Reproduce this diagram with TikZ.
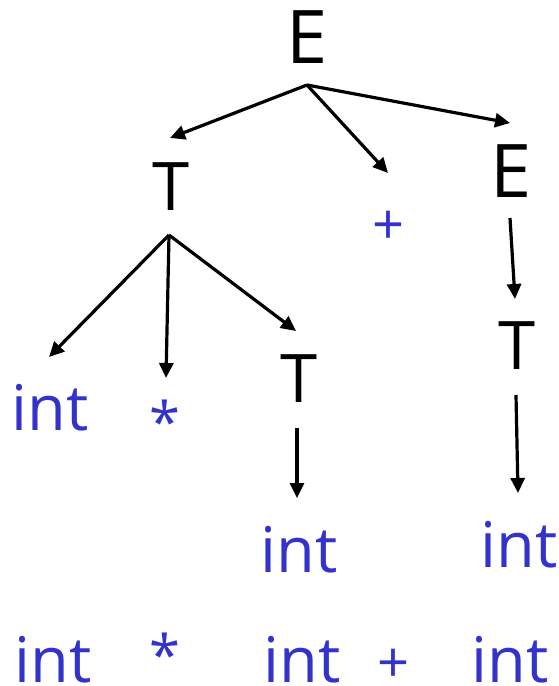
\documentclass[tikz,border=0pt]{standalone}
\usepackage{fontspec}
\setmainfont{Open Sans}
\usetikzlibrary{arrows.meta,calc}
\definecolor{tokblue}{RGB}{51,51,204}
\tikzset{
  nt/.style={inner sep=0pt, anchor=base, text=black, font=\fontsize{74}{80}\selectfont},
  ntT/.style={inner sep=0pt, anchor=base, text=black, font=\fontsize{67}{72}\selectfont},
  tok/.style={inner sep=0pt, anchor=base, text=tokblue, font=\fontsize{63}{70}\selectfont},
  sym/.style={inner sep=0pt, anchor=base, text=tokblue, font=\fontsize{56}{60}\selectfont},
  arr/.style={line width=3.2pt, -{Triangle[length=15pt,width=14pt]}},
}
\begin{document}
\begin{tikzpicture}[x=1pt,y=-1pt]
\useasboundingbox (0,0) rectangle (558,686);
% tree nodes (placed at baselines)
\node[nt]  (E1) at (307,63)  {E};
\node[ntT] (T1) at (171,210) {T};
\node[sym] (P1) at (389,244) {+};
\node[nt]  (E2) at (511,197) {E};
\node[tok] (I1) at (50,430)  {int};
\node[sym] (S1) at (165,442) {*};
\node[ntT] (T2) at (299,402) {T};
\node[ntT] (T3) at (517,369) {T};
\node[tok] (I2) at (299,572) {int};
\node[tok] (I3) at (519,567) {int};
% bottom sentence
\node[tok] (B1) at (53,682)  {int};
\node[sym] (B2) at (165,675) {*};
\node[tok] (B3) at (302,682) {int};
\node[sym] (B4) at (394,682) {+};
\node[tok] (B5) at (510,682) {int};
% connectors
\draw[arr] ($(E1.base)+(0,22)$) -- ($(T1.base)+(-1,-72)$);
\draw[arr] ($(E1.base)+(0,22)$) -- ($(P1.base)+(-1,-71)$);
\draw[arr] ($(E1.base)+(0,22)$) -- ($(E2.base)+(-1,-74)$);
\draw[arr] ($(T1.base)+(-2,25)$) -- ($(I1.base)+(-1,-73)$);
\draw[arr] ($(T1.base)+(-2,25)$) -- ($(S1.base)+(1,-64)$);
\draw[arr] ($(T1.base)+(-2,25)$) -- ($(T2.base)+(-3,-71)$);
\draw[arr] ($(E2.base)+(-1,21)$) -- ($(T3.base)+(-2,-70)$);
\draw[arr] ($(T2.base)+(-2,26)$) -- ($(I2.base)+(-2,-74)$);
\draw[arr] ($(T3.base)+(-1,26)$) -- ($(I3.base)+(-1,-74)$);
\end{tikzpicture}
\end{document}
